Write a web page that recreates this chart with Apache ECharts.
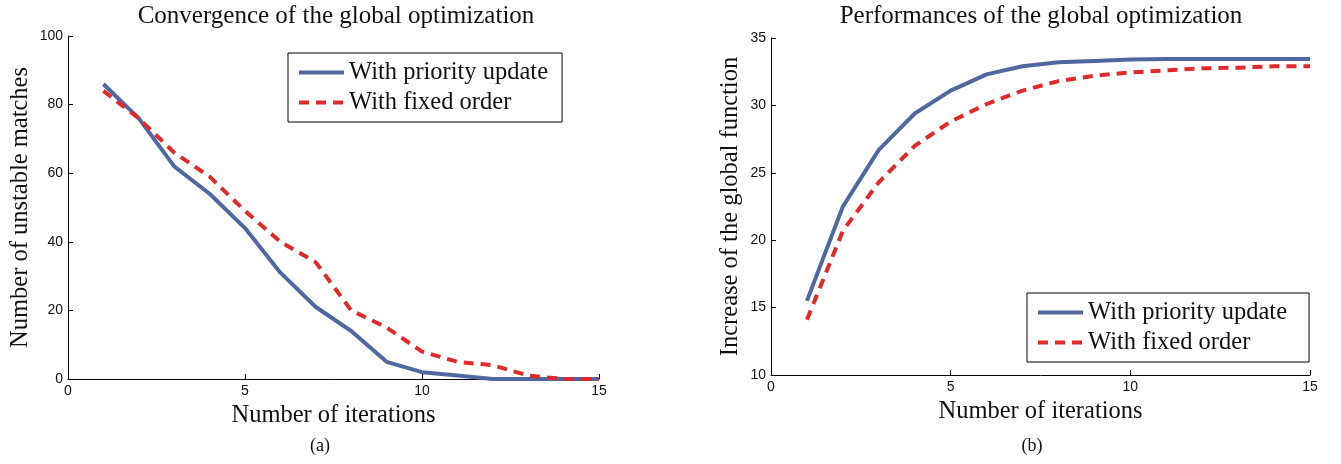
<!DOCTYPE html>
<html><head><meta charset="utf-8">
<script src="https://cdn.jsdelivr.net/npm/echarts@6/dist/echarts.min.js"></script>
<style>html,body{margin:0;padding:0;background:#fff}#c{width:1341px;height:464px}</style>
</head><body><div id="c"></div>
<script>
const iterations = [1,2,3,4,5,6,7,8,9,10,11,12,13,14,15];
const unstablePriority = [86,76,62,54,44,31,21,14,5,2,1,0,0,0,0];
const unstableFixed = [84,76,66,59,49,40,34,20,15,8,5,4,1,0,0];
const gainPriority = [15.5,22.5,26.7,29.4,31.1,32.3,32.9,33.2,33.3,33.4,33.45,33.45,33.45,33.45,33.45];
const gainFixed = [14.1,20.7,24.3,27.0,28.8,30.1,31.1,31.8,32.2,32.45,32.6,32.75,32.8,32.9,32.9];
const xTicks = [0,5,10,15];
const names = ['With priority update','With fixed order'];

const blue = '#5068a0', red = '#e02a2a';
const serif = 'Liberation Serif';
const sans = 'Liberation Sans';
const pair = (xs, ys) => xs.map((x,i)=>[x, ys[i]]);

function xAx(gi){
  return {type:'value', gridIndex:gi, min:xTicks[0], max:xTicks[xTicks.length-1], interval:5,
    name:'Number of iterations', nameLocation:'middle', nameGap:22,
    nameTextStyle:{fontFamily:serif, fontSize:24.5, color:'#111'},
    axisLine:{show:true, lineStyle:{color:'#000', width:1}},
    axisTick:{show:true, inside:true, length:5, lineStyle:{color:'#000'}},
    axisLabel:{fontFamily:sans, fontSize:14, color:'#111', margin:5},
    splitLine:{show:false}};
}
function yAx(gi, min, max, interval, name, gap){
  return {type:'value', gridIndex:gi, min, max, interval,
    name, nameLocation:'middle', nameGap:gap,
    nameTextStyle:{fontFamily:serif, fontSize:24.5, color:'#111'},
    axisLine:{show:true, lineStyle:{color:'#000', width:1}},
    axisTick:{show:true, inside:true, length:5, lineStyle:{color:'#000'}},
    axisLabel:{fontFamily:sans, fontSize:14, color:'#111', margin:5},
    splitLine:{show:false}};
}
function ser(name, gi, data, color, dashed){
  return {name, type:'line', xAxisIndex:gi, yAxisIndex:gi, data, showSymbol:false, symbol:'none',
    lineStyle:{color, width:4, type: dashed ? [10,7] : 'solid'}, itemStyle:{color}, animation:false};
}
function leg(left, top, padR){
  return {show:true, orient:'vertical', left, top,
    data: names.map(n=>({name:n})),
    itemWidth:45, itemHeight:25, itemGap:5,
    lineStyle:{width:4},
    itemStyle:{opacity:0},
    borderColor:'#000', borderWidth:1, padding:[7,padR,7,9], backgroundColor:'#fff',
    textStyle:{fontFamily:serif, fontSize:24.5, lineHeight:25, color:'#111'}};
}
const tStyle = (fs) => ({fontFamily:serif, fontSize:fs, fontWeight:'normal', color:'#111'});

const chart = echarts.init(document.getElementById('c'), null, {renderer:'canvas'});
chart.setOption({
  animation:false,
  title:[
    {text:'Convergence of the global optimization', left:336, top:4, textAlign:'center', padding:0, textStyle:tStyle(25)},
    {text:'Performances of the global optimization', left:1041, top:4, textAlign:'center', padding:0, textStyle:tStyle(25)},
    {text:'(a)', left:320, top:437, textAlign:'center', padding:0, textStyle:tStyle(18)},
    {text:'(b)', left:1032, top:437, textAlign:'center', padding:0, textStyle:tStyle(18)}
  ],
  legend:[leg(288, 53, 14), leg(1027, 293, 22)],
  grid:[
    {left:68, top:36, width:531, height:343},
    {left:771, top:38, width:539, height:337}
  ],
  xAxis:[xAx(0), xAx(1)],
  yAxis:[
    yAx(0, 0, 100, 20, 'Number of unstable matches', 35),
    yAx(1, 10, 35, 5, 'Increase of the global function', 28)
  ],
  series:[
    ser(names[0], 0, pair(iterations, unstablePriority), blue, false),
    ser(names[1], 0, pair(iterations, unstableFixed), red, true),
    ser(names[0], 1, pair(iterations, gainPriority), blue, false),
    ser(names[1], 1, pair(iterations, gainFixed), red, true)
  ]
});
</script></body></html>
